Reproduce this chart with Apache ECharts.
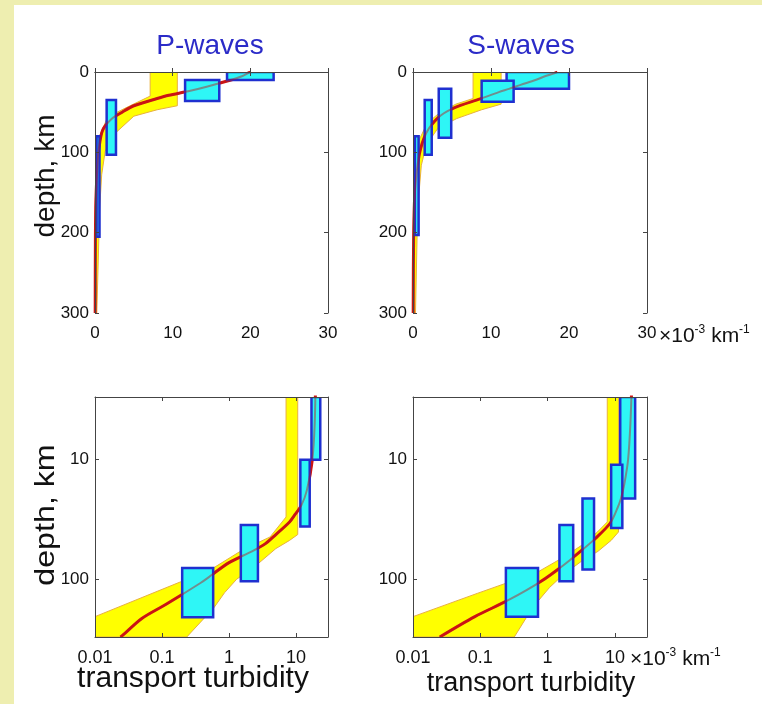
<!DOCTYPE html>
<html>
<head>
<meta charset="utf-8">
<title>P-waves / S-waves transport turbidity</title>
<script src="https://cdn.jsdelivr.net/npm/echarts@6/dist/echarts.min.js"></script>
<style>
html, body { margin: 0; padding: 0; background: #fff; }
#main { width: 762px; height: 704px; }
</style>
</head>
<body>
<div id="main"></div>
<script>
// turbidity in 10^-3 km^-1, depth in km
// model curves [turbidity, depth]
var pModel = [[20, 0], [19.6, 2], [19, 5], [17.5, 10], [14.5, 18], [12, 24], [9.5, 29], [8, 33], [5, 42], [3.5, 50], [2.2, 58], [1, 72], [0.5, 95], [0.37, 107], [0.12, 158], [0.05, 210], [0.026, 290], [0.024, 300]];
var sModel = [[18.5, 0], [18, 2], [17, 5], [15.7, 10], [13.8, 16], [12.3, 21], [11, 25], [8.6, 33.5], [5.2, 45], [3.2, 57], [1.7, 76], [0.8, 103], [0.26, 148], [0.083, 203], [0.025, 300]];

// yellow uncertainty band: upper (left) edge and lower (right) edge
var pBandUpper = [[7.1, 0], [7.1, 30], [4.1, 44], [1.63, 56], [0.58, 80], [0.19, 104], [0.01, 203], [0.003, 300]];
var pBandLower = [[10.6, 0], [10.6, 42], [8, 47], [5, 55], [2.4, 78], [1.3, 99], [0.86, 128], [0.6, 170], [0.234, 300]];
var sBandUpper = [[7.7, 0], [7.7, 33], [5.5, 40], [3.5, 50], [1.8, 64], [0.72, 86], [0.09, 130], [0.01, 203], [0.003, 300]];
var sBandLower = [[11.3, 0], [11.3, 40], [8.8, 47], [5.6, 58], [3.2, 70], [1.7, 91], [1.07, 116], [0.6, 170], [0.32, 300]];

// observation boxes [x1, x2, depth1, depth2]
var pBoxes = [[17, 23, 0, 10], [11.6, 16, 10, 36], [1.5, 2.7, 35, 103], [0.2, 0.58, 80, 205]];
var sBoxes = [[12, 20, 0, 21], [8.8, 12.9, 11, 37], [3.3, 4.9, 21, 82], [1.5, 2.4, 35, 103], [0.24, 0.72, 80, 203]];

var linX = [0, 30, 10];
var linY = [0, 300, 100];
var logX = [0.01, 30];
var logY = [3, 300];

var SANS = "'Liberation Sans', Arial, sans-serif";

var chart = echarts.init(document.getElementById('main'));

var grids = [
    {left: 95, top: 72, width: 233, height: 241},
    {left: 413, top: 72, width: 234, height: 241},
    {left: 95, top: 397, width: 233, height: 240},
    {left: 413, top: 397, width: 234, height: 240}
];

var panels = [
    {model: pModel, up: pBandUpper, low: pBandLower, boxes: pBoxes, log: false},
    {model: sModel, up: sBandUpper, low: sBandLower, boxes: sBoxes, log: false},
    {model: pModel, up: pBandUpper, low: pBandLower, boxes: pBoxes, log: true},
    {model: sModel, up: sBandUpper, low: sBandLower, boxes: sBoxes, log: true}
];

// log axes can't take zeros, push them off the plot instead
function fixPt(p, log) {
    if (!log) return p;
    return [Math.max(p[0], 0.001), Math.max(p[1], 1)];
}
function fixBox(b, log) {
    if (!log) return b;
    return [Math.max(b[0], 0.001), b[1], Math.max(b[2], 1), b[3]];
}

function logLabel(v) {
    return v >= 1 ? String(Math.round(v)) : String(+v.toFixed(2));
}

var xAxis = [], yAxis = [], series = [];

panels.forEach(function (pn, i) {
    var lineStyle = {color: '#444', width: 1};
    var tick = {show: true, inside: true, length: 4, lineStyle: {color: '#444'}};
    var xb, yb;
    if (pn.log) {
        xb = {type: 'log', logBase: 10, min: logX[0], max: logX[1]};
        yb = {type: 'log', logBase: 10, min: logY[0], max: logY[1], inverse: true};
    } else {
        xb = {type: 'value', min: linX[0], max: linX[1], interval: linX[2]};
        yb = {type: 'value', min: linY[0], max: linY[1], interval: linY[2], inverse: true};
    }

    xAxis.push(Object.assign({}, xb, {
        gridIndex: i, position: 'bottom', z: 5,
        axisLine: {show: true, lineStyle: lineStyle},
        axisTick: tick,
        splitLine: {show: false},
        axisLabel: {
            color: '#111', margin: 12, fontFamily: SANS, fontSize: pn.log ? 18 : 17,
            showMinLabel: true, showMaxLabel: !pn.log,
            formatter: pn.log ? logLabel : null
        }
    }));
    xAxis.push(Object.assign({}, xb, {
        gridIndex: i, position: 'top', z: 5,
        axisLine: {show: true, onZero: false, lineStyle: lineStyle},
        axisTick: tick, axisLabel: {show: false}, splitLine: {show: false}
    }));
    yAxis.push(Object.assign({}, yb, {
        gridIndex: i, position: 'left', z: 5,
        axisLine: {show: true, onZero: false, lineStyle: lineStyle},
        axisTick: tick,
        splitLine: {show: false},
        axisLabel: {
            color: '#111', margin: 6, fontFamily: SANS, fontSize: 17,
            showMinLabel: !pn.log, showMaxLabel: !pn.log,
            formatter: pn.log ? logLabel : null
        }
    }));
    yAxis.push(Object.assign({}, yb, {
        gridIndex: i, position: 'right', z: 5,
        axisLine: {show: true, onZero: false, lineStyle: lineStyle},
        axisTick: tick, axisLabel: {show: false}, splitLine: {show: false}
    }));

    var xi = i * 2, yi = i * 2;
    var band = pn.up.concat(pn.low.slice().reverse()).map(function (p) { return fixPt(p, pn.log); });
    var model = pn.model.filter(function (p) { return !pn.log || p[1] > 0; });

    series.push({
        type: 'custom', xAxisIndex: xi, yAxisIndex: yi, z: 1, clip: true,
        data: band,
        renderItem: function (params, api) {
            if (params.dataIndex !== 0) return;
            var pts = band.map(function (p) { return api.coord(p); });
            return {
                type: 'polygon', shape: {points: pts},
                style: {fill: '#ffff00', stroke: '#e8b040', lineWidth: 1}
            };
        }
    });
    series.push({
        type: 'line', xAxisIndex: xi, yAxisIndex: yi, z: 2,
        data: model, showSymbol: false, smooth: 0.3, clip: true,
        lineStyle: {color: '#d01818', width: 3}
    });
    series.push({
        type: 'custom', xAxisIndex: xi, yAxisIndex: yi, z: 3, clip: true,
        data: pn.boxes.map(function (b) { return fixBox(b, pn.log); }),
        encode: {x: [0, 1], y: [2, 3]},
        renderItem: function (params, api) {
            var a = api.coord([api.value(0), api.value(2)]);
            var b = api.coord([api.value(1), api.value(3)]);
            var r = echarts.graphic.clipRectByRect(
                {x: a[0], y: a[1], width: b[0] - a[0], height: b[1] - a[1]},
                params.coordSys);
            return r && {
                type: 'rect', shape: r,
                style: {fill: '#2ef6f6', stroke: '#1f30d0', lineWidth: 2.5}
            };
        }
    });
    // model seen through the boxes
    series.push({
        type: 'line', xAxisIndex: xi, yAxisIndex: yi, z: 4,
        data: model, showSymbol: false, smooth: 0.3, clip: true,
        lineStyle: {color: '#c01010', width: 2, opacity: 0.45}
    });
});

var unitRich = {
    a: {fontFamily: SANS, fontSize: 21, lineHeight: 24, fill: '#111'},
    b: {fontFamily: SANS, fontSize: 12, lineHeight: 24, verticalAlign: 'top', fill: '#111'}
};

var graphic = [
    {type: 'rect', shape: {x: 0, y: 0, width: 762, height: 5}, style: {fill: '#eeeeb0'}, z: 0},
    {type: 'rect', shape: {x: 0, y: 0, width: 14, height: 704}, style: {fill: '#eeeeb0'}, z: 0},
    {type: 'text', x: 210, y: 46, style: {text: 'P-waves', fontFamily: SANS, fontSize: 28, fill: '#2b2bc8', align: 'center', verticalAlign: 'middle'}},
    {type: 'text', x: 521, y: 46, style: {text: 'S-waves', fontFamily: SANS, fontSize: 28, fill: '#2b2bc8', align: 'center', verticalAlign: 'middle'}},
    {type: 'text', x: 46, y: 176, rotation: Math.PI / 2, style: {text: 'depth, km', fontFamily: SANS, fontSize: 28, fill: '#111', align: 'center', verticalAlign: 'middle'}},
    {type: 'text', x: 46, y: 515, rotation: Math.PI / 2, scaleX: 1.15, style: {text: 'depth, km', fontFamily: SANS, fontSize: 28, fill: '#111', align: 'center', verticalAlign: 'middle'}},
    {type: 'text', x: 193, y: 679, style: {text: 'transport turbidity', fontFamily: SANS, fontSize: 30, fill: '#111', align: 'center', verticalAlign: 'middle'}},
    {type: 'text', x: 531, y: 684, style: {text: 'transport turbidity', fontFamily: SANS, fontSize: 27, fill: '#111', align: 'center', verticalAlign: 'middle'}},
    {type: 'text', x: 659, y: 336, style: {text: '{a|×10}{b|-3}{a| km}{b|-1}', rich: unitRich, verticalAlign: 'middle'}},
    {type: 'text', x: 630, y: 659, style: {text: '{a|×10}{b|-3}{a| km}{b|-1}', rich: unitRich, verticalAlign: 'middle'}}
];

chart.setOption({
    backgroundColor: '#fff',
    animation: false,
    grid: grids,
    xAxis: xAxis,
    yAxis: yAxis,
    series: series,
    graphic: graphic
});
</script>
</body>
</html>
